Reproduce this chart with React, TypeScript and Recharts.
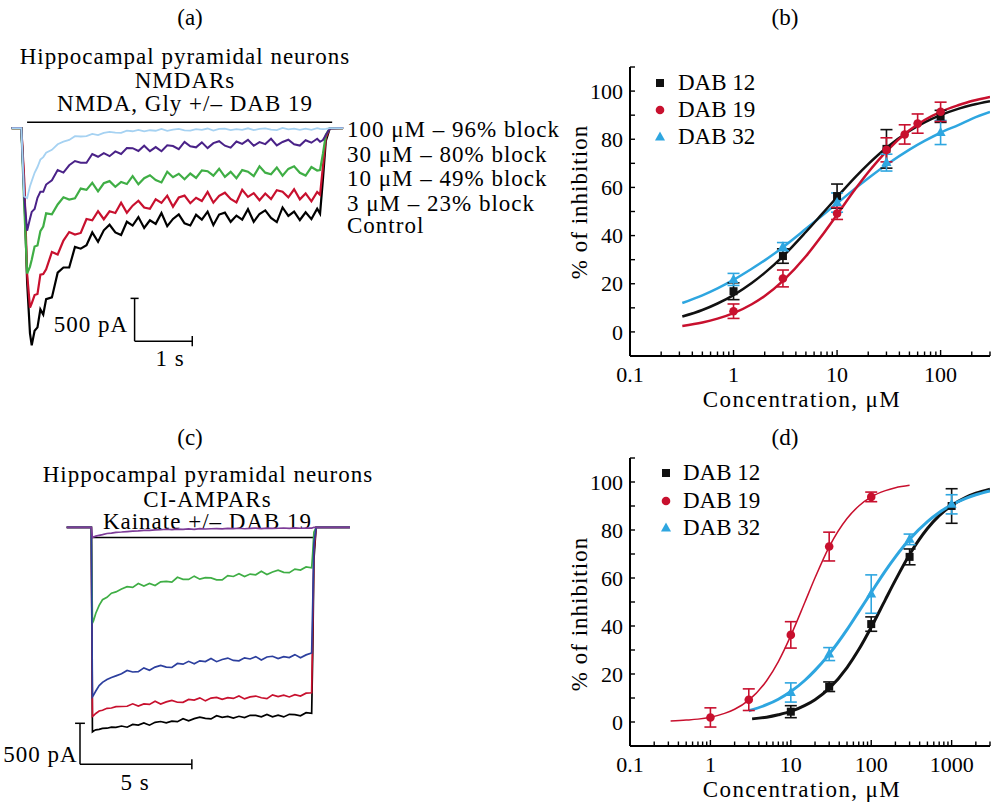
import React from "react";
import {
  ComposedChart,
  LineChart,
  Line,
  Scatter,
  ErrorBar,
  XAxis,
  YAxis,
  ReferenceLine,
} from "recharts";

const FONT = '"Liberation Serif", "Times New Roman", serif';
const RED = "#c8102e";
const BLUE = "#2ea6e0";
const BLACK = "#111111";

// ---------- (a) NMDAR traces: time (s) / current (pA) ----------
const timeA = [
  0.2, 0.37, 0.42, 0.47, 0.52, 0.55, 0.6, 0.65, 0.7, 0.75, 0.8, 0.9,
  1.0, 1.1, 1.2, 1.3, 1.4, 1.5, 1.6, 1.7, 1.8, 1.9,
  2.0, 2.1, 2.2, 2.3, 2.4, 2.5, 2.6, 2.7, 2.8, 2.9,
  3.0, 3.1, 3.2, 3.3, 3.4, 3.5, 3.6, 3.7, 3.8, 3.9,
  4.0, 4.1, 4.2, 4.3, 4.4, 4.5, 4.6, 4.7, 4.8, 4.9,
  5.0, 5.1, 5.2, 5.3, 5.4, 5.5, 5.55, 5.6, 5.65, 5.72, 5.95,
];
const controlA = [
  0, 0, -700, -1800, -2400, -2540, -2370, -2330, -2120, -2180, -2000, -1980,
  -1690, -1630, -1630, -1390, -1410, -1370, -1220, -1330, -1195, -1130,
  -1220, -1250, -1095, -1140, -1040, -1168, -1078, -1120, -993, -1147,
  -1062, -1008, -1113, -1138, -1014, -1070, -977, -1134, -1011, -988,
  -1096, -1023, -1070, -948, -1096, -1004, -962, -1050, -1099, -928,
  -1027, -976, -1075, -985, -1064, -943, -1000, -600, -150, 0, 0,
];
const dab3A = [
  0, 0, -600, -1700, -2100, -2050, -1952, -1940, -1714, -1707, -1652, -1449,
  -1478, -1315, -1215, -1244, -1226, -1063, -1078, -972, -1066, -973,
  -993, -872, -990, -907, -849, -929, -944, -832, -874, -790,
  -919, -812, -790, -878, -815, -853, -747, -872, -792, -755,
  -828, -868, -722, -804, -760, -843, -765, -830, -726, -743,
  -809, -715, -833, -764, -856, -746, -780, -450, -110, 0, 0,
];
const dab10A = [
  0, 0, -900, -1700, -1620, -1540, -1384, -1372, -1206, -1151, -997, -1009,
  -893, -808, -835, -821, -707, -722, -641, -740, -645, -620,
  -687, -629, -654, -561, -657, -586, -551, -607, -635, -510,
  -574, -534, -599, -531, -582, -494, -504, -556, -475, -570,
  -511, -585, -491, -509, -562, -447, -521, -540, -460, -556,
  -477, -447, -522, -555, -455, -496, -490, -300, -80, 0, 0,
];
const dab30A = [
  0, 0, -800, -1200, -1060, -980, -945, -815, -745, -745, -660, -610,
  -490, -520, -435, -385, -405, -405, -303, -335, -293, -328,
  -272, -302, -233, -235, -268, -206, -269, -222, -271, -200,
  -210, -246, -162, -213, -225, -167, -234, -176, -153, -206,
  -229, -157, -185, -138, -206, -164, -187, -125, -203, -162,
  -136, -190, -204, -142, -171, -125, -160, -140, -80, -5, 0,
];
const dab100A = [
  0, 0, -800, -820, -680, -620, -522, -455, -368, -339, -287, -254,
  -189, -158, -139, -94, -98, -93, -68, -82, -57, -44,
  -54, -56, -30, -37, -20, -39, -25, -31, -10, -33,
  -18, -10, -26, -30, -11, -20, -5, -30, -10, -7,
  -24, -12, -20, -2, -24, -10, -4, -18, -24, 2,
  -14, -6, -21, -7, -20, -1, -10, -12, -8, 0, 0,
];
const labelsA = [
  "100 μM – 96% block",
  "30 μM – 80% block",
  "10 μM – 49% block",
  "3 μM – 23% block",
  "Control",
];

// ---------- (c) CI-AMPAR traces ----------
const timeC = [
  0.3, 1.4, 1.45, 1.5, 1.6, 1.75, 1.9, 2.1, 2.3, 2.5, 2.75,
  3.0, 3.25, 3.5, 3.75, 4.0, 4.25, 4.5, 4.75, 5.0, 5.25,
  5.5, 5.75, 6.0, 6.25, 6.5, 6.75, 7.0, 7.25, 7.5, 7.75,
  8.0, 8.25, 8.5, 8.75, 9.0, 9.25, 9.5, 9.75, 10.0, 10.25,
  10.5, 10.75, 11.0, 11.25, 11.3, 11.35, 11.45, 12.96,
];
const greenC = [
  0, 0, -1170, -1140, -1050, -955, -885, -855, -805, -790, -755,
  -725, -734, -688, -718, -686, -712, -666, -662, -671, -611,
  -636, -637, -597, -634, -616, -619, -642, -642, -590, -601,
  -568, -603, -572, -581, -538, -577, -547, -525, -551, -554,
  -511, -522, -484, -495, -300, -60, 0, 0,
];
const blueC = [
  0, 0, -2070, -2050, -2000, -1935, -1895, -1860, -1835, -1815, -1790,
  -1750, -1768, -1764, -1718, -1747, -1708, -1688, -1709, -1713, -1664,
  -1673, -1638, -1667, -1632, -1640, -1602, -1642, -1615, -1598, -1627,
  -1632, -1595, -1609, -1580, -1622, -1585, -1576, -1604, -1581, -1592,
  -1556, -1594, -1559, -1536, -900, -200, 0, 0,
];
const redC = [
  0, 0, -2310, -2300, -2275, -2245, -2235, -2212, -2208, -2192, -2190,
  -2187, -2157, -2185, -2158, -2164, -2126, -2160, -2133, -2115, -2138,
  -2139, -2103, -2112, -2084, -2121, -2087, -2078, -2103, -2081, -2091,
  -2060, -2097, -2073, -2062, -2083, -2094, -2047, -2069, -2052, -2073,
  -2046, -2063, -2027, -2022, -1200, -300, 0, 0,
];
const blackC = [
  0, 0, -2500, -2490, -2475, -2470, -2458, -2455, -2442, -2445, -2428,
  -2443, -2409, -2416, -2391, -2418, -2383, -2373, -2390, -2369, -2375,
  -2340, -2365, -2338, -2321, -2334, -2342, -2302, -2322, -2310, -2331,
  -2309, -2325, -2297, -2299, -2315, -2288, -2316, -2296, -2317, -2285,
  -2289, -2303, -2265, -2274, -1500, -400, 0, 0,
];
const purpleC = [
  0, 0, -125, -118, -108, -98, -90, -76, -71, -62, -58,
  -52, -47, -45, -38, -37, -31, -30, -24, -29, -22,
  -26, -19, -25, -17, -21, -18, -16, -20, -14, -17,
  -12, -18, -13, -11, -16, -10, -14, -12, -9, -13,
  -8, -12, -9, -10, -5, 0, 0, 0,
];

// ---------- (b) NMDAR dose-response ----------
const concFitB = [0.32, 0.5, 0.7, 1, 1.5, 2, 3, 5, 7, 10, 15, 20, 30, 50, 70, 100, 150, 200, 300];
const fit12B = [6.4, 9.1, 11.8, 15.3, 20.3, 24.5, 31.4, 41.5, 48.5, 56, 64.3, 69.7, 76.5, 83.4, 87, 90, 92.7, 94.2, 95.8];
const fit19B = [2.5, 3.9, 5.5, 7.8, 11.5, 14.9, 21.2, 31.4, 39.5, 48.7, 59.3, 66.3, 75, 83.7, 88, 91.4, 94.2, 95.9, 97.6];
const fit32B = [12, 15.2, 18.1, 21.6, 26.2, 29.7, 35.2, 42.8, 47.9, 53.4, 59.6, 63.8, 69.4, 75.7, 79.3, 82.7, 86, 88.5, 91.3];
const conc12B = [1, 3, 10, 30, 100];
const mean12B = [16.9, 31.5, 56.4, 76, 89.5];
const sem12B = [3.5, 3, 5, 8, 2.5];
const conc19B = [1, 3, 10, 30, 45, 60, 100];
const mean19B = [8.6, 22.2, 49.2, 75.6, 82, 86.5, 91.4];
const sem19B = [3, 3.5, 2.5, 5, 4, 4, 4];
const conc32B = [1, 3, 10, 30, 100];
const mean32B = [21.8, 35.4, 53.7, 70.3, 82.8];
const sem32B = [2.5, 1.7, 4, 3.5, 5];

// ---------- (d) CI-AMPAR dose-response ----------
const concFit19D = [0.32, 0.5, 0.7, 1, 1.5, 2, 3, 5, 7, 10, 15, 20, 30, 50, 70, 100, 150, 200, 300];
const fit19D = [0.4, 0.8, 1.2, 2.0, 3.6, 5.3, 9.1, 17.2, 25.2, 36, 50, 60.1, 73, 84.8, 90, 93.8, 96.4, 97.6, 98.6];
const concFit12D = [3.3, 5, 7, 10, 15, 20, 30, 50, 70, 100, 150, 200, 300, 500, 700, 1000, 1500, 2000, 3000];
const fit12D = [1.3, 2.0, 3.0, 4.4, 6.9, 9.3, 14, 22.7, 30.2, 39.5, 51, 59.1, 69.8, 80.6, 86, 90.2, 93.6, 95.3, 97];
const concFit32D = [3, 5, 7, 10, 15, 20, 30, 50, 70, 100, 150, 200, 300, 500, 700, 1000, 1500, 2000, 3000];
const fit32D = [4.7, 7.2, 9.5, 12.7, 17.4, 21.5, 28.3, 38.5, 46, 54, 63, 68.8, 76.1, 83.5, 87.3, 90.5, 93.2, 94.7, 96.3];
const conc12D = [10, 30, 100, 300, 1000];
const mean12D = [4.3, 14.7, 40.8, 68.8, 90];
const sem12D = [2.5, 2, 3, 3.3, 7.2];
const conc19D = [1, 3, 10, 30, 100];
const mean19D = [1.9, 9.3, 36.3, 73.1, 93.8];
const sem19D = [4, 4.5, 5.5, 6, 2];
const conc32D = [10, 30, 100, 300, 1000];
const mean32D = [12.3, 28.3, 53.3, 76.1, 90.7];
const sem32D = [4, 2.7, 8, 2.2, 4];

const xTicksB = [0.1, 0.2, 0.3, 0.4, 0.5, 0.6, 0.7, 0.8, 0.9, 1, 2, 3, 4, 5, 6, 7, 8, 9, 10, 20, 30, 40, 50, 60, 70, 80, 90, 100, 200, 300];
const xTicksD = [...xTicksB, 400, 500, 600, 700, 800, 900, 1000, 2000, 3000];
const xLabels = [0.1, 1, 10, 100, 1000];
const yTicks = [-10, 0, 10, 20, 30, 40, 50, 60, 70, 80, 90, 100, 110];
const yLabels = [0, 20, 40, 60, 80, 100];
const compounds = ["DAB 12", "DAB 19", "DAB 32"];

const fitRows = (c: number[], v: number[]) => c.map((x, i) => ({ c: x, v: v[i] }));
const pointRows = (c: number[], v: number[], e: number[]) => c.map((x, i) => ({ c: x, v: v[i], e: e[i] }));

function Txt({ x, y, anchor = "middle", size = 23, ls = 1, children }: any) {
  const tx = anchor === "middle" ? "translateX(-50%)" : anchor === "end" ? "translateX(-100%)" : undefined;
  return (
    <div
      style={{
        position: "absolute",
        left: x,
        top: y - 10,
        fontSize: size,
        lineHeight: "20px",
        letterSpacing: ls,
        whiteSpace: "nowrap",
        transform: tx,
      }}
    >
      {children}
    </div>
  );
}

const Square = (color: string) => (p: any) => <rect x={p.cx - 4} y={p.cy - 4} width={8} height={8} fill={color} />;
const Dot = (color: string) => (p: any) => <circle cx={p.cx} cy={p.cy} r={4.3} fill={color} />;
const Tri = (color: string) => (p: any) => (
  <polygon points={`${p.cx},${p.cy - 5.5} ${p.cx + 5},${p.cy + 3.5} ${p.cx - 5},${p.cy + 3.5}`} fill={color} />
);

function XTick(p: any) {
  const v = p.payload.value;
  const lab = xLabels.includes(v);
  return (
    <g>
      <line x1={p.x} x2={p.x} y1={p.y} y2={p.y - (lab ? 6 : 4.5)} stroke="#000" strokeWidth={1.4} />
      {lab && (
        <text x={p.x} y={p.y + 18} dy="0.35em" textAnchor="middle" fontFamily={FONT} fontSize={22} fill="#000">
          {String(v)}
        </text>
      )}
    </g>
  );
}

function YTick(p: any) {
  const v = p.payload.value;
  const lab = yLabels.includes(v);
  return (
    <g>
      <line x1={p.x} x2={p.x + 5} y1={p.y} y2={p.y} stroke="#000" strokeWidth={1.4} />
      {lab && (
        <text x={p.x - 7} y={p.y} dy="0.35em" textAnchor="end" fontFamily={FONT} fontSize={22} fill="#000">
          {v}
        </text>
      )}
    </g>
  );
}

function LegendMarker({ kind, color }: any) {
  return (
    <svg width={12} height={12} style={{ position: "absolute", left: -6, top: -6 }}>
      {kind === 0 && <rect x={2} y={2} width={8} height={8} fill={color} />}
      {kind === 1 && <circle cx={6} cy={6} r={4.3} fill={color} />}
      {kind === 2 && <polygon points="6,0.5 11,9.5 1,9.5" fill={color} />}
    </svg>
  );
}

function DoseLegend({ mx, tx, ys }: any) {
  const colors = [BLACK, RED, BLUE];
  return (
    <>
      {compounds.map((name, i) => (
        <React.Fragment key={name}>
          <div style={{ position: "absolute", left: mx, top: ys[i] }}>
            <LegendMarker kind={i} color={colors[i]} />
          </div>
          <Txt x={tx} y={ys[i]} anchor="start" ls={0}>
            {name}
          </Txt>
        </React.Fragment>
      ))}
    </>
  );
}

function DoseChart({ top, mTop, maxX, ticks, fits, points, widths }: any) {
  return (
    <div style={{ position: "absolute", left: 560, top }}>
      <ComposedChart width={432} height={380} margin={{ top: mTop, right: 2, bottom: 0, left: 0 }}>
        <XAxis
          dataKey="c"
          type="number"
          scale="log"
          domain={[0.1, maxX]}
          allowDataOverflow
          ticks={ticks}
          interval={0}
          tickSize={0}
          tickMargin={0}
          height={64}
          axisLine={{ stroke: "#000", strokeWidth: 2 }}
          tickLine={false}
          tick={(p: any) => <XTick {...p} />}
        />
        <YAxis
          type="number"
          domain={[-10, 110]}
          allowDataOverflow
          ticks={yTicks}
          interval={0}
          tickSize={0}
          tickMargin={0}
          width={70}
          axisLine={{ stroke: "#000", strokeWidth: 2 }}
          tickLine={false}
          tick={(p: any) => <YTick {...p} />}
        />
        {fits.map((f: any, i: number) => (
          <Line
            key={"f" + i}
            data={f.rows}
            dataKey="v"
            type="monotone"
            stroke={f.color}
            strokeWidth={widths[i]}
            dot={false}
            isAnimationActive={false}
          />
        ))}
        {points.map((s: any, i: number) => (
          <Scatter key={"s" + i} data={s.rows} dataKey="v" shape={s.shape} isAnimationActive={false}>
            <ErrorBar dataKey="e" direction="y" width={6} stroke={s.color} strokeWidth={1.6} />
          </Scatter>
        ))}
      </ComposedChart>
    </div>
  );
}

function YTitle({ cy }: any) {
  return (
    <div
      style={{
        position: "absolute",
        left: 579,
        top: cy,
        fontSize: 23,
        lineHeight: "23px",
        letterSpacing: 1,
        whiteSpace: "nowrap",
        transform: "translate(-50%, -50%) rotate(-90deg)",
      }}
    >
      % of inhibition
    </div>
  );
}

export default function App() {
  const rowsA = timeA.map((t, i) => ({
    t,
    c: controlA[i],
    d3: dab3A[i],
    d10: dab10A[i],
    d30: dab30A[i],
    d100: dab100A[i],
  }));
  const rowsC = timeC.map((t, i) => ({
    t,
    k: blackC[i],
    r: redC[i],
    b: blueC[i],
    g: greenC[i],
    p: purpleC[i],
  }));
  const seg = (x1: number, y1: number, x2: number, y2: number) => [
    { x: x1, y: y1 },
    { x: x2, y: y2 },
  ];

  return (
    <div
      style={{
        position: "absolute",
        left: 0,
        top: 0,
        width: 991,
        height: 802,
        background: "#fff",
        overflow: "hidden",
        fontFamily: FONT,
        color: "#000",
      }}
    >
      {/* panel letters */}
      <Txt x={190} y={18} ls={0}>(a)</Txt>
      <Txt x={785} y={18} ls={0}>(b)</Txt>
      <Txt x={190} y={438} ls={0}>(c)</Txt>
      <Txt x={785} y={438} ls={0}>(d)</Txt>

      {/* (a) */}
      <Txt x={185} y={57}>Hippocampal pyramidal neurons</Txt>
      <Txt x={185} y={81}>NMDARs</Txt>
      <Txt x={185} y={104}>NMDA, Gly +/– DAB 19</Txt>
      {labelsA.map((s, i) => (
        <Txt key={s} x={347} y={[130, 155, 178.5, 203.5, 225.5][i]} anchor="start">
          {s}
        </Txt>
      ))}
      <Txt x={128} y={325} anchor="end">500 pA</Txt>
      <Txt x={170} y={359}>1 s</Txt>
      <div style={{ position: "absolute", left: 0, top: 111 }}>
        <LineChart width={346} height={248} data={rowsA} margin={{ top: 0, right: 0, bottom: 0, left: 0 }}>
          <XAxis dataKey="t" type="number" domain={[0, 6]} hide />
          <YAxis type="number" domain={[-2700, 200]} hide />
          <ReferenceLine segment={seg(0.47, 68, 5.76, 68)} stroke="#000" strokeWidth={1.5} />
          <ReferenceLine segment={seg(2.334, -1991, 2.334, -2491)} stroke="#000" strokeWidth={1.5} />
          <ReferenceLine segment={seg(2.334, -2491, 3.334, -2491)} stroke="#000" strokeWidth={1.5} />
          <ReferenceLine segment={seg(2.264, -1991, 2.404, -1991)} stroke="#000" strokeWidth={1.5} />
          <ReferenceLine segment={seg(3.334, -2431, 3.334, -2551)} stroke="#000" strokeWidth={1.5} />
          <Line dataKey="c" stroke="#000" strokeWidth={2.2} dot={false} isAnimationActive={false} />
          <Line dataKey="d3" stroke={RED} strokeWidth={2.2} dot={false} isAnimationActive={false} />
          <Line dataKey="d10" stroke="#3fae45" strokeWidth={2.2} dot={false} isAnimationActive={false} />
          <Line dataKey="d30" stroke="#4a2288" strokeWidth={2} dot={false} isAnimationActive={false} />
          <Line dataKey="d100" stroke="#a6d2f2" strokeWidth={1.8} dot={false} isAnimationActive={false} />
        </LineChart>
      </div>

      {/* (c) */}
      <Txt x={208} y={475}>Hippocampal pyramidal neurons</Txt>
      <Txt x={207.5} y={500}>CI-AMPARs</Txt>
      <Txt x={207.5} y={521.7}>Kainate +/– DAB 19</Txt>
      <Txt x={77.5} y={755} anchor="end">500 pA</Txt>
      <Txt x={135} y={783}>5 s</Txt>
      <div style={{ position: "absolute", left: 60, top: 515.4 }}>
        <LineChart width={302} height={266} data={rowsC} margin={{ top: 0, right: 0, bottom: 0, left: 0 }}>
          <XAxis dataKey="t" type="number" domain={[0, 13.5]} hide />
          <YAxis type="number" domain={[-3100, 150]} hide />
          <ReferenceLine segment={seg(1.417, -126, 11.4, -126)} stroke="#000" strokeWidth={1.5} />
          <ReferenceLine segment={seg(0.894, -2395, 0.894, -2895)} stroke="#000" strokeWidth={1.5} />
          <ReferenceLine segment={seg(0.894, -2895, 5.894, -2895)} stroke="#000" strokeWidth={1.5} />
          <ReferenceLine segment={seg(0.674, -2395, 1.114, -2395)} stroke="#000" strokeWidth={1.5} />
          <ReferenceLine segment={seg(5.894, -2834, 5.894, -2956)} stroke="#000" strokeWidth={1.5} />
          <Line dataKey="k" stroke="#000" strokeWidth={1.7} dot={false} isAnimationActive={false} />
          <Line dataKey="r" stroke={RED} strokeWidth={1.7} dot={false} isAnimationActive={false} />
          <Line dataKey="g" stroke="#3fae45" strokeWidth={1.7} dot={false} isAnimationActive={false} />
          <Line dataKey="b" stroke="#2c3f9e" strokeWidth={1.7} dot={false} isAnimationActive={false} />
          <Line dataKey="p" stroke="#7d3c98" strokeWidth={1.7} dot={false} isAnimationActive={false} />
        </LineChart>
      </div>

      {/* (b) */}
      <DoseChart
        top={40}
        mTop={27}
        maxX={300}
        ticks={xTicksB}
        widths={[2.5, 2.5, 2.5]}
        fits={[
          { rows: fitRows(concFitB, fit32B), color: BLUE },
          { rows: fitRows(concFitB, fit12B), color: BLACK },
          { rows: fitRows(concFitB, fit19B), color: RED },
        ]}
        points={[
          { rows: pointRows(conc12B, mean12B, sem12B), color: BLACK, shape: Square(BLACK) },
          { rows: pointRows(conc32B, mean32B, sem32B), color: BLUE, shape: Tri(BLUE) },
          { rows: pointRows(conc19B, mean19B, sem19B), color: RED, shape: Dot(RED) },
        ]}
      />
      <DoseLegend mx={660} tx={678} ys={[83.3, 109.6, 136.5]} />
      <Txt x={802} y={400} ls={1.4}>Concentration, μM</Txt>
      <YTitle cy={201.7} />

      {/* (d) */}
      <DoseChart
        top={430}
        mTop={28}
        maxX={3000}
        ticks={xTicksD}
        widths={[3, 3, 1.5]}
        fits={[
          { rows: fitRows(concFit12D, fit12D), color: BLACK },
          { rows: fitRows(concFit32D, fit32D), color: BLUE },
          { rows: fitRows(concFit19D, fit19D), color: RED },
        ]}
        points={[
          { rows: pointRows(conc12D, mean12D, sem12D), color: BLACK, shape: Square(BLACK) },
          { rows: pointRows(conc32D, mean32D, sem32D), color: BLUE, shape: Tri(BLUE) },
          { rows: pointRows(conc19D, mean19D, sem19D), color: RED, shape: Dot(RED) },
        ]}
      />
      <DoseLegend mx={666} tx={683} ys={[473.3, 500.7, 528.3]} />
      <Txt x={802} y={790} ls={1.4}>Concentration, μM</Txt>
      <YTitle cy={614} />
    </div>
  );
}
